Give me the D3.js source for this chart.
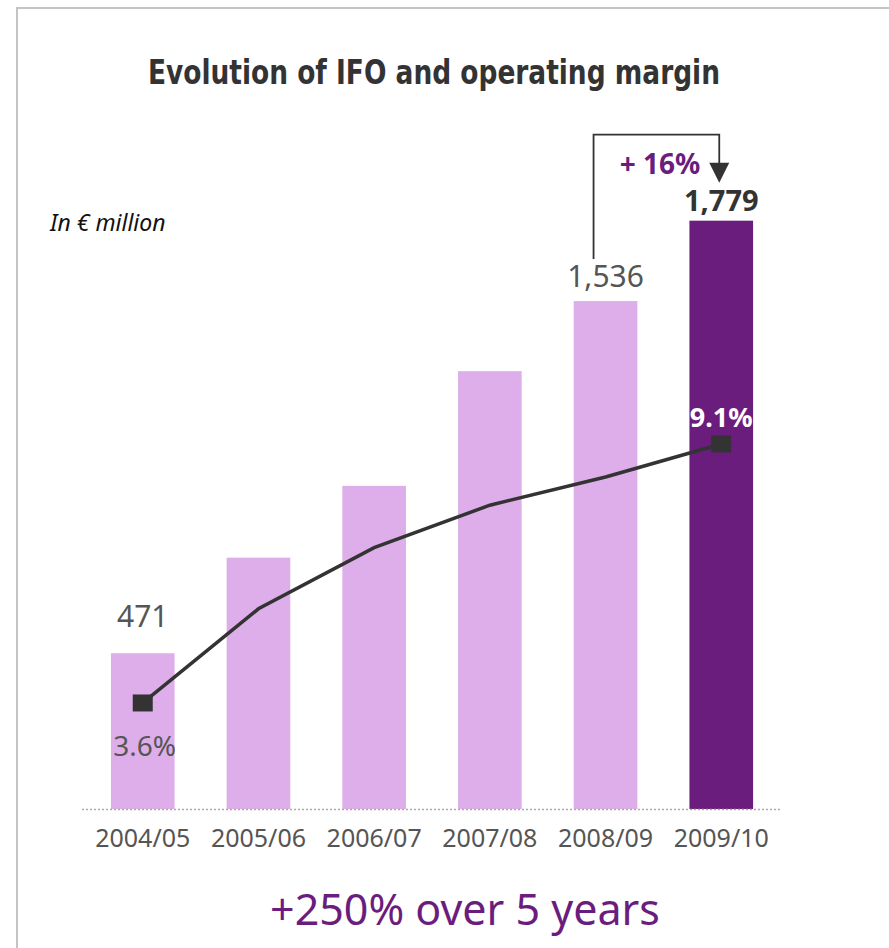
<!DOCTYPE html>
<html>
<head>
<meta charset="utf-8">
<script src="https://cdn.jsdelivr.net/npm/d3@7"></script>
<style>
  body { margin: 0; background: #fff; }
  text { font-family: "Noto Sans", sans-serif; }
</style>
</head>
<body>
<div class="container"></div>
<script>
const w = 889;
const h = 948;

const years = ['2004/05', '2005/06', '2006/07', '2007/08', '2008/09', '2009/10'];
const ifo = [471, 760, 977, 1324, 1536, 1779];
const margin = [3.6, 5.6, 6.9, 7.8, 8.4, 9.1];
const shownIfo = ['471', null, null, null, '1,536', '1,779'];

const light = '#deaeea';
const dark = '#6b1d7e';

const svg = d3.select('.container').append('svg')
    .attr('width', w)
    .attr('height', h);

// frame, only the top and left edges are visible
svg.append('path')
    .attr('d', `M17,${h} L17,8 L${w},8`)
    .attr('fill', 'none')
    .attr('stroke', '#c4c4c4')
    .attr('stroke-width', 2);

const x = d3.scaleBand()
    .domain(years)
    .range([82, 782])
    .paddingInner(0.45)
    .paddingOuter(0.25);

const y = d3.scaleLinear()
    .domain([0, 2000])
    .range([809, 809 - 2000 * 0.3307]);

const yM = d3.scaleLinear()
    .domain([0, 10])
    .range([872.5, 401.6]);

const cx = d => x(d) + x.bandwidth() / 2;

svg.append('text')
    .attr('x', 434)
    .attr('y', 84)
    .attr('text-anchor', 'middle')
    .attr('textLength', 572)
    .attr('lengthAdjust', 'spacingAndGlyphs')
    .style('font-family', '"DejaVu Sans Condensed", "DejaVu Sans", sans-serif')
    .style('font-stretch', 'condensed')
    .style('font-weight', 'bold')
    .style('font-size', '34px')
    .style('fill', '#333')
    .text('Evolution of IFO and operating margin');

svg.append('text')
    .attr('x', 50)
    .attr('y', 231)
    .style('font-style', 'italic')
    .style('font-size', '23px')
    .style('fill', '#111')
    .text('In € million');

svg.selectAll('.bar')
    .data(years)
    .enter()
    .append('rect')
      .classed('bar', true)
      .attr('x', d => x(d))
      .attr('y', (d, i) => y(ifo[i]))
      .attr('width', x.bandwidth())
      .attr('height', (d, i) => y(0) - y(ifo[i]))
      .style('fill', (d, i) => i === years.length - 1 ? dark : light);

// dotted baseline
svg.append('line')
    .attr('x1', 82)
    .attr('x2', 782)
    .attr('y1', y(0) + 0.5)
    .attr('y2', y(0) + 0.5)
    .attr('stroke', '#aaa')
    .attr('stroke-width', 1.5)
    .attr('stroke-dasharray', '2,2');

const xAxis = d3.axisBottom(x).tickSize(0).tickPadding(20);
const gx = svg.append('g')
    .attr('transform', `translate(0, ${y(0)})`)
    .call(xAxis);
gx.select('.domain').remove();
gx.selectAll('text')
    .style('font-family', '"Noto Sans", sans-serif')
    .style('font-size', '25px')
    .style('fill', '#555');

// bar value labels
const labelDy = [26, 0, 0, 0, 14, 10];
svg.selectAll('.val')
    .data(years.filter((d, i) => shownIfo[i]))
    .enter()
    .append('text')
      .classed('val', true)
      .attr('x', d => cx(d))
      .attr('y', d => { const i = years.indexOf(d); return y(ifo[i]) - labelDy[i]; })
      .attr('text-anchor', 'middle')
      .style('font-size', d => years.indexOf(d) === 5 ? '29px' : '30px')
      .style('font-weight', d => years.indexOf(d) === 5 ? 'bold' : 'normal')
      .style('fill', d => years.indexOf(d) === 5 ? '#333' : '#555')
      .text(d => shownIfo[years.indexOf(d)]);

// operating margin line
const line = d3.line()
    .x(d => cx(d))
    .y((d, i) => yM(margin[i]));

svg.append('path')
    .datum(years)
    .attr('d', line)
    .attr('fill', 'none')
    .attr('stroke', '#333')
    .attr('stroke-width', 3.5);

const ends = [0, years.length - 1];
svg.selectAll('.dot')
    .data(ends)
    .enter()
    .append('rect')
      .classed('dot', true)
      .attr('x', i => cx(years[i]) - 10)
      .attr('y', i => yM(margin[i]) - 8.5)
      .attr('width', 20)
      .attr('height', 17)
      .style('fill', '#333');

svg.append('text')
    .attr('x', cx(years[0]) + 2)
    .attr('y', yM(margin[0]) + 53)
    .attr('text-anchor', 'middle')
    .style('font-size', '28px')
    .style('fill', '#555')
    .text(margin[0].toFixed(1) + '%');

svg.append('text')
    .attr('x', cx(years[5]))
    .attr('y', yM(margin[5]) - 17)
    .attr('text-anchor', 'middle')
    .style('font-size', '27px')
    .style('font-weight', 'bold')
    .style('fill', '#fff')
    .text(margin[5].toFixed(1) + '%');

// growth bracket between the last two years
const top6 = y(ifo[5]);
const bx1 = cx(years[4]) - 12;
const bx2 = cx(years[5]) - 2;
svg.append('path')
    .attr('d', `M${bx1},${y(ifo[4]) - 42} L${bx1},${top6 - 86} L${bx2},${top6 - 86} L${bx2},${top6 - 56}`)
    .attr('fill', 'none')
    .attr('stroke', '#333')
    .attr('stroke-width', 1.8);

svg.append('path')
    .attr('d', `M${bx2 - 10},${top6 - 58} L${bx2 + 10},${top6 - 58} L${bx2},${top6 - 38} Z`)
    .style('fill', '#333');

svg.append('text')
    .attr('x', 660)
    .attr('y', top6 - 47)
    .attr('text-anchor', 'middle')
    .style('font-size', '28px')
    .style('font-weight', 'bold')
    .style('fill', dark)
    .text('+ 16%');

svg.append('text')
    .attr('x', 465)
    .attr('y', 925)
    .attr('text-anchor', 'middle')
    .style('font-size', '43px')
    .style('fill', dark)
    .text('+250% over 5 years');
</script>
</body>
</html>
